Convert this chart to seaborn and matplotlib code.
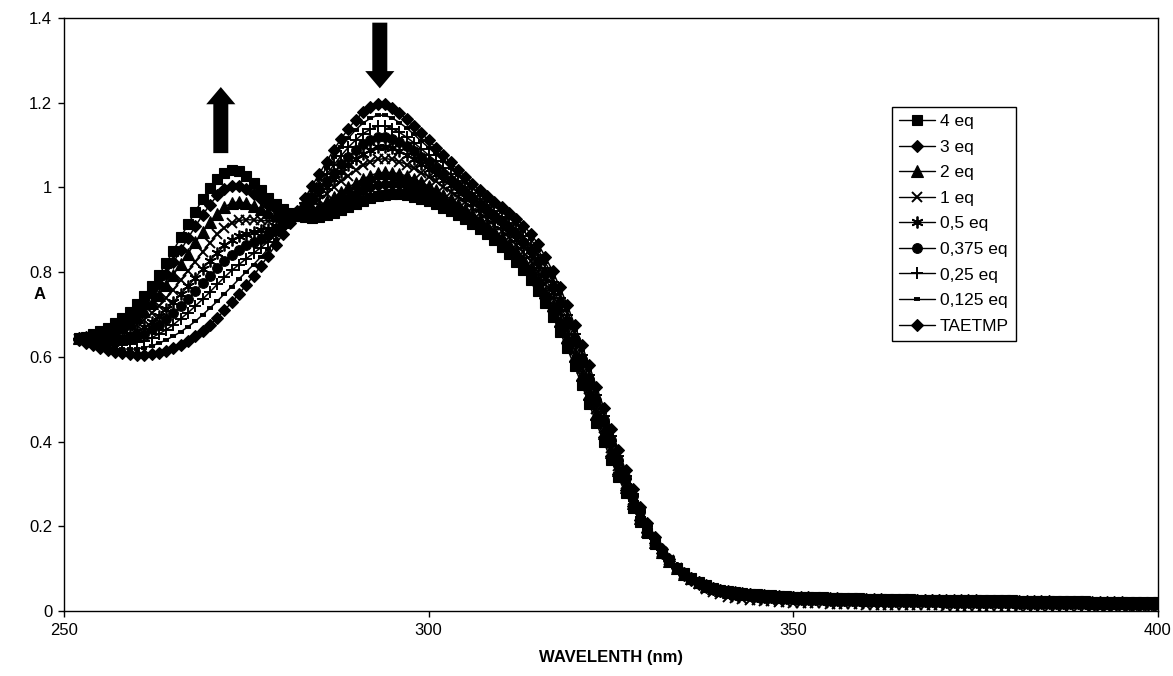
import matplotlib
matplotlib.use("Agg")
import matplotlib.pyplot as plt
from matplotlib.lines import Line2D
from matplotlib.ticker import FuncFormatter
import pandas as pd
import seaborn as sns

# Wavelength grid (nm), one reading per nanometre
wavelength = list(range(252, 401))

eq_4 = [
    0.645, 0.648, 0.653, 0.660, 0.668, 0.679, 0.692, 0.707, 0.724, 0.744,
    0.767, 0.793, 0.821, 0.851, 0.882, 0.913, 0.943, 0.972, 0.998, 1.020,
    1.035, 1.041, 1.038, 1.027, 1.011, 0.993, 0.975, 0.960, 0.948, 0.939,
    0.933, 0.930, 0.929, 0.931, 0.935, 0.940, 0.947, 0.954, 0.961, 0.968,
    0.974, 0.979, 0.982, 0.984, 0.984, 0.982, 0.978, 0.973, 0.967, 0.960,
    0.952, 0.944, 0.935, 0.925, 0.914, 0.902, 0.889, 0.875, 0.860, 0.843,
    0.825, 0.805, 0.782, 0.756, 0.727, 0.695, 0.659, 0.620, 0.578, 0.534,
    0.489, 0.444, 0.400, 0.357, 0.316, 0.278, 0.243, 0.211, 0.183, 0.158,
    0.136, 0.118, 0.102, 0.089, 0.078, 0.069, 0.061, 0.055, 0.050, 0.048,
    0.045, 0.043, 0.041, 0.039, 0.038, 0.037, 0.036, 0.035, 0.034, 0.033,
    0.033, 0.032, 0.032, 0.031, 0.031, 0.030, 0.030, 0.030, 0.029, 0.029,
    0.029, 0.028, 0.028, 0.028, 0.028, 0.027, 0.027, 0.027, 0.027, 0.026,
    0.026, 0.026, 0.026, 0.026, 0.025, 0.025, 0.025, 0.025, 0.025, 0.024,
    0.024, 0.024, 0.024, 0.024, 0.023, 0.023, 0.023, 0.023, 0.023, 0.022,
    0.022, 0.022, 0.022, 0.022, 0.021, 0.021, 0.021, 0.021, 0.021,
]

eq_3 = [
    0.644, 0.646, 0.650, 0.655, 0.662, 0.671, 0.682, 0.695, 0.710, 0.727,
    0.748, 0.771, 0.796, 0.823, 0.852, 0.880, 0.908, 0.935, 0.959, 0.981,
    0.996, 1.004, 1.003, 0.996, 0.985, 0.972, 0.959, 0.949, 0.941, 0.936,
    0.934, 0.935, 0.938, 0.943, 0.950, 0.958, 0.967, 0.976, 0.985, 0.993,
    1.000, 1.005, 1.008, 1.009, 1.007, 1.004, 0.998, 0.992, 0.984, 0.976,
    0.967, 0.958, 0.948, 0.937, 0.925, 0.913, 0.900, 0.886, 0.871, 0.855,
    0.837, 0.818, 0.795, 0.769, 0.740, 0.708, 0.672, 0.632, 0.590, 0.545,
    0.500, 0.454, 0.410, 0.366, 0.324, 0.285, 0.248, 0.215, 0.186, 0.160,
    0.137, 0.118, 0.102, 0.089, 0.078, 0.068, 0.061, 0.055, 0.050, 0.047,
    0.044, 0.042, 0.040, 0.038, 0.037, 0.036, 0.035, 0.034, 0.033, 0.032,
    0.032, 0.031, 0.031, 0.030, 0.030, 0.029, 0.029, 0.029, 0.028, 0.028,
    0.028, 0.027, 0.027, 0.027, 0.027, 0.026, 0.026, 0.026, 0.026, 0.025,
    0.025, 0.025, 0.025, 0.025, 0.024, 0.024, 0.024, 0.024, 0.024, 0.023,
    0.023, 0.023, 0.023, 0.023, 0.022, 0.022, 0.022, 0.022, 0.022, 0.021,
    0.021, 0.021, 0.021, 0.021, 0.020, 0.020, 0.020, 0.020, 0.020,
]

eq_2 = [
    0.644, 0.644, 0.647, 0.650, 0.655, 0.662, 0.671, 0.682, 0.694, 0.709,
    0.727, 0.747, 0.770, 0.794, 0.819, 0.844, 0.870, 0.895, 0.918, 0.938,
    0.954, 0.963, 0.966, 0.963, 0.956, 0.949, 0.941, 0.936, 0.934, 0.934,
    0.936, 0.941, 0.948, 0.956, 0.967, 0.977, 0.989, 1.000, 1.011, 1.020,
    1.028, 1.034, 1.036, 1.035, 1.032, 1.027, 1.020, 1.012, 1.003, 0.994,
    0.983, 0.973, 0.962, 0.950, 0.938, 0.925, 0.912, 0.898, 0.883, 0.867,
    0.850, 0.831, 0.809, 0.784, 0.754, 0.722, 0.685, 0.646, 0.603, 0.558,
    0.512, 0.466, 0.420, 0.375, 0.332, 0.292, 0.254, 0.220, 0.189, 0.162,
    0.139, 0.119, 0.102, 0.088, 0.077, 0.068, 0.060, 0.054, 0.049, 0.046,
    0.043, 0.041, 0.039, 0.037, 0.036, 0.035, 0.034, 0.033, 0.032, 0.031,
    0.031, 0.030, 0.030, 0.029, 0.029, 0.028, 0.028, 0.028, 0.027, 0.027,
    0.027, 0.026, 0.026, 0.026, 0.026, 0.025, 0.025, 0.025, 0.025, 0.024,
    0.024, 0.024, 0.024, 0.024, 0.023, 0.023, 0.023, 0.023, 0.023, 0.022,
    0.022, 0.022, 0.022, 0.022, 0.021, 0.021, 0.021, 0.021, 0.021, 0.020,
    0.020, 0.020, 0.020, 0.020, 0.019, 0.019, 0.019, 0.019, 0.019,
]

eq_1 = [
    0.643, 0.642, 0.643, 0.644, 0.647, 0.652, 0.659, 0.667, 0.676, 0.688,
    0.703, 0.720, 0.739, 0.759, 0.781, 0.803, 0.825, 0.848, 0.869, 0.889,
    0.905, 0.916, 0.922, 0.924, 0.923, 0.922, 0.921, 0.922, 0.925, 0.930,
    0.938, 0.948, 0.959, 0.971, 0.985, 1.000, 1.014, 1.028, 1.041, 1.052,
    1.060, 1.066, 1.068, 1.066, 1.061, 1.054, 1.045, 1.035, 1.025, 1.014,
    1.002, 0.990, 0.978, 0.965, 0.952, 0.939, 0.925, 0.911, 0.897, 0.882,
    0.865, 0.847, 0.826, 0.800, 0.771, 0.738, 0.701, 0.661, 0.617, 0.572,
    0.525, 0.478, 0.432, 0.386, 0.342, 0.300, 0.261, 0.225, 0.193, 0.165,
    0.140, 0.120, 0.102, 0.088, 0.074, 0.063, 0.053, 0.045, 0.040, 0.034,
    0.031, 0.029, 0.027, 0.025, 0.024, 0.023, 0.022, 0.021, 0.020, 0.019,
    0.019, 0.018, 0.018, 0.017, 0.017, 0.016, 0.016, 0.016, 0.015, 0.015,
    0.015, 0.014, 0.014, 0.014, 0.014, 0.013, 0.013, 0.013, 0.013, 0.012,
    0.012, 0.012, 0.012, 0.012, 0.011, 0.011, 0.011, 0.011, 0.011, 0.010,
    0.010, 0.010, 0.010, 0.010, 0.009, 0.009, 0.009, 0.009, 0.009, 0.008,
    0.008, 0.008, 0.008, 0.008, 0.007, 0.007, 0.007, 0.007, 0.007,
]

eq_0_5 = [
    0.642, 0.640, 0.639, 0.639, 0.640, 0.644, 0.648, 0.654, 0.661, 0.670,
    0.682, 0.696, 0.712, 0.729, 0.748, 0.767, 0.787, 0.808, 0.827, 0.846,
    0.863, 0.876, 0.885, 0.891, 0.895, 0.899, 0.903, 0.909, 0.917, 0.927,
    0.939, 0.953, 0.968, 0.985, 1.002, 1.019, 1.036, 1.052, 1.067, 1.079,
    1.088, 1.095, 1.095, 1.092, 1.086, 1.077, 1.067, 1.055, 1.043, 1.031,
    1.018, 1.005, 0.992, 0.978, 0.964, 0.951, 0.937, 0.923, 0.909, 0.894,
    0.879, 0.861, 0.840, 0.814, 0.785, 0.752, 0.715, 0.674, 0.630, 0.584,
    0.537, 0.490, 0.442, 0.396, 0.350, 0.307, 0.266, 0.230, 0.196, 0.167,
    0.141, 0.120, 0.102, 0.087, 0.076, 0.066, 0.059, 0.053, 0.048, 0.045,
    0.042, 0.040, 0.038, 0.036, 0.035, 0.034, 0.033, 0.032, 0.031, 0.030,
    0.030, 0.029, 0.029, 0.028, 0.028, 0.027, 0.027, 0.027, 0.026, 0.026,
    0.026, 0.025, 0.025, 0.025, 0.025, 0.024, 0.024, 0.024, 0.024, 0.023,
    0.023, 0.023, 0.023, 0.023, 0.022, 0.022, 0.022, 0.022, 0.022, 0.021,
    0.021, 0.021, 0.021, 0.021, 0.020, 0.020, 0.020, 0.020, 0.020, 0.019,
    0.019, 0.019, 0.019, 0.019, 0.018, 0.018, 0.018, 0.018, 0.018,
]

eq_0_375 = [
    0.642, 0.638, 0.636, 0.635, 0.635, 0.636, 0.639, 0.642, 0.648, 0.655,
    0.665, 0.676, 0.689, 0.704, 0.720, 0.737, 0.755, 0.774, 0.792, 0.810,
    0.827, 0.841, 0.853, 0.863, 0.871, 0.879, 0.888, 0.899, 0.911, 0.925,
    0.941, 0.958, 0.976, 0.996, 1.016, 1.035, 1.055, 1.072, 1.088, 1.102,
    1.112, 1.119, 1.119, 1.115, 1.107, 1.097, 1.085, 1.072, 1.059, 1.046,
    1.032, 1.018, 1.004, 0.989, 0.975, 0.961, 0.947, 0.933, 0.920, 0.905,
    0.890, 0.872, 0.852, 0.826, 0.797, 0.764, 0.726, 0.685, 0.641, 0.594,
    0.547, 0.499, 0.451, 0.404, 0.357, 0.313, 0.271, 0.233, 0.199, 0.169,
    0.142, 0.121, 0.102, 0.087, 0.075, 0.066, 0.058, 0.052, 0.048, 0.045,
    0.042, 0.040, 0.038, 0.036, 0.035, 0.034, 0.033, 0.032, 0.031, 0.030,
    0.030, 0.029, 0.029, 0.028, 0.028, 0.027, 0.027, 0.027, 0.026, 0.026,
    0.026, 0.025, 0.025, 0.025, 0.025, 0.024, 0.024, 0.024, 0.024, 0.023,
    0.023, 0.023, 0.023, 0.023, 0.022, 0.022, 0.022, 0.022, 0.022, 0.021,
    0.021, 0.021, 0.021, 0.021, 0.020, 0.020, 0.020, 0.020, 0.020, 0.019,
    0.019, 0.019, 0.019, 0.019, 0.018, 0.018, 0.018, 0.018, 0.018,
]

eq_0_25 = [
    0.641, 0.637, 0.633, 0.630, 0.629, 0.628, 0.629, 0.630, 0.634, 0.638,
    0.645, 0.654, 0.664, 0.676, 0.690, 0.704, 0.720, 0.736, 0.753, 0.771,
    0.788, 0.804, 0.818, 0.832, 0.845, 0.858, 0.872, 0.887, 0.904, 0.922,
    0.942, 0.963, 0.985, 1.008, 1.031, 1.053, 1.075, 1.095, 1.112, 1.127,
    1.137, 1.145, 1.145, 1.139, 1.130, 1.118, 1.105, 1.091, 1.076, 1.062,
    1.047, 1.031, 1.016, 1.001, 0.986, 0.972, 0.958, 0.944, 0.931, 0.917,
    0.902, 0.885, 0.865, 0.840, 0.810, 0.776, 0.739, 0.698, 0.653, 0.605,
    0.558, 0.509, 0.461, 0.413, 0.365, 0.319, 0.276, 0.238, 0.202, 0.171,
    0.144, 0.121, 0.102, 0.087, 0.075, 0.065, 0.058, 0.052, 0.048, 0.044,
    0.041, 0.039, 0.037, 0.035, 0.034, 0.033, 0.032, 0.031, 0.030, 0.029,
    0.029, 0.028, 0.028, 0.027, 0.027, 0.026, 0.026, 0.026, 0.025, 0.025,
    0.025, 0.024, 0.024, 0.024, 0.024, 0.023, 0.023, 0.023, 0.023, 0.022,
    0.022, 0.022, 0.022, 0.022, 0.021, 0.021, 0.021, 0.021, 0.021, 0.020,
    0.020, 0.020, 0.020, 0.020, 0.019, 0.019, 0.019, 0.019, 0.019, 0.018,
    0.018, 0.018, 0.018, 0.018, 0.017, 0.017, 0.017, 0.017, 0.017,
]

eq_0_125 = [
    0.641, 0.635, 0.630, 0.626, 0.622, 0.620, 0.619, 0.618, 0.619, 0.622,
    0.626, 0.632, 0.640, 0.649, 0.659, 0.671, 0.684, 0.699, 0.715, 0.731,
    0.749, 0.766, 0.784, 0.801, 0.818, 0.836, 0.855, 0.876, 0.897, 0.920,
    0.944, 0.969, 0.994, 1.020, 1.046, 1.071, 1.095, 1.117, 1.136, 1.152,
    1.163, 1.171, 1.170, 1.164, 1.153, 1.140, 1.125, 1.109, 1.094, 1.078,
    1.062, 1.045, 1.029, 1.013, 0.998, 0.983, 0.969, 0.955, 0.942, 0.928,
    0.914, 0.897, 0.878, 0.853, 0.823, 0.789, 0.751, 0.710, 0.664, 0.617,
    0.569, 0.520, 0.470, 0.421, 0.372, 0.326, 0.282, 0.242, 0.205, 0.173,
    0.145, 0.122, 0.102, 0.086, 0.074, 0.065, 0.057, 0.051, 0.047, 0.043,
    0.040, 0.038, 0.036, 0.034, 0.033, 0.032, 0.031, 0.030, 0.029, 0.028,
    0.028, 0.027, 0.027, 0.026, 0.026, 0.025, 0.025, 0.025, 0.024, 0.024,
    0.024, 0.023, 0.023, 0.023, 0.023, 0.022, 0.022, 0.022, 0.022, 0.021,
    0.021, 0.021, 0.021, 0.021, 0.020, 0.020, 0.020, 0.020, 0.020, 0.019,
    0.019, 0.019, 0.019, 0.019, 0.018, 0.018, 0.018, 0.018, 0.018, 0.017,
    0.017, 0.017, 0.017, 0.017, 0.016, 0.016, 0.016, 0.016, 0.016,
]

taetmp = [
    0.640, 0.633, 0.627, 0.621, 0.616, 0.612, 0.609, 0.606, 0.605, 0.605,
    0.607, 0.610, 0.615, 0.621, 0.629, 0.638, 0.649, 0.662, 0.676, 0.692,
    0.710, 0.729, 0.749, 0.770, 0.792, 0.815, 0.839, 0.864, 0.890, 0.917,
    0.945, 0.974, 1.003, 1.032, 1.061, 1.089, 1.115, 1.139, 1.160, 1.177,
    1.189, 1.197, 1.196, 1.188, 1.176, 1.161, 1.145, 1.128, 1.111, 1.094,
    1.077, 1.059, 1.042, 1.025, 1.009, 0.994, 0.980, 0.966, 0.953, 0.940,
    0.926, 0.910, 0.891, 0.866, 0.836, 0.802, 0.764, 0.722, 0.676, 0.628,
    0.580, 0.530, 0.480, 0.430, 0.380, 0.332, 0.287, 0.246, 0.208, 0.175,
    0.146, 0.122, 0.102, 0.086, 0.074, 0.064, 0.057, 0.051, 0.047, 0.044,
    0.041, 0.039, 0.037, 0.035, 0.034, 0.033, 0.032, 0.031, 0.030, 0.029,
    0.029, 0.028, 0.028, 0.027, 0.027, 0.026, 0.026, 0.026, 0.025, 0.025,
    0.025, 0.024, 0.024, 0.024, 0.024, 0.023, 0.023, 0.023, 0.023, 0.022,
    0.022, 0.022, 0.022, 0.022, 0.021, 0.021, 0.021, 0.021, 0.021, 0.020,
    0.020, 0.020, 0.020, 0.020, 0.019, 0.019, 0.019, 0.019, 0.019, 0.018,
    0.018, 0.018, 0.018, 0.018, 0.017, 0.017, 0.017, 0.017, 0.017,
]

series_labels = ["4 eq", "3 eq", "2 eq", "1 eq", "0,5 eq",
                 "0,375 eq", "0,25 eq", "0,125 eq", "TAETMP"]
series_values = [eq_4, eq_3, eq_2, eq_1, eq_0_5,
                 eq_0_375, eq_0_25, eq_0_125, taetmp]

x_ticks = [250, 300, 350, 400]
y_ticks = [0, 0.2, 0.4, 0.6, 0.8, 1.0, 1.2, 1.4]

# Marker glyph for each titration step (all drawn in black)
marker_styles = {
    "4 eq": dict(marker="s", markersize=7.0, markeredgewidth=0.8),
    "3 eq": dict(marker="D", markersize=6.5, markeredgewidth=0.8),
    "2 eq": dict(marker="^", markersize=8.0, markeredgewidth=0.8),
    "1 eq": dict(marker="x", markersize=7.0, markeredgewidth=1.4),
    "0,5 eq": dict(marker=(6, 2, 0), markersize=8.5, markeredgewidth=1.3),
    "0,375 eq": dict(marker="o", markersize=7.0, markeredgewidth=0.8),
    "0,25 eq": dict(marker="+", markersize=9.0, markeredgewidth=1.4),
    "0,125 eq": dict(marker="_", markersize=4.5, markeredgewidth=2.8),
    "TAETMP": dict(marker="D", markersize=6.5, markeredgewidth=0.8),
}

frames = []
for label, values in zip(series_labels, series_values):
    frames.append(pd.DataFrame({"wavelength": wavelength,
                                "absorbance": values,
                                "sample": label}))
spectra = pd.DataFrame(pd.concat(frames, ignore_index=True))

sns.set_style("white")
plt.rcParams["font.family"] = ["Liberation Sans", "DejaVu Sans"]
plt.rcParams["text.color"] = "black"
plt.rcParams["axes.labelcolor"] = "black"
plt.rcParams["xtick.color"] = "black"
plt.rcParams["ytick.color"] = "black"

W, H = 1173, 676
fig = plt.figure(figsize=(W / 100, H / 100), dpi=100)
ax = fig.add_axes([64 / W, 1 - 611 / H, (1158 - 64) / W, (611 - 18) / H])

for label in series_labels:
    subset = spectra[spectra["sample"] == label]
    sns.lineplot(data=subset, x="wavelength", y="absorbance", ax=ax,
                 color="black", linewidth=1.1, estimator=None, sort=False,
                 errorbar=None, legend=False,
                 markerfacecolor="black", markeredgecolor="black",
                 **marker_styles[label])

ax.set_xlim(x_ticks[0], x_ticks[-1])
ax.set_ylim(y_ticks[0], y_ticks[-1])
ax.set_xticks(x_ticks)
ax.set_yticks(y_ticks)
ax.yaxis.set_major_formatter(FuncFormatter(lambda v, _: f"{v:g}"))
ax.tick_params(axis="both", direction="out", length=4.5, width=1.0,
               labelsize=12, pad=4, bottom=True, left=True)
for spine in ax.spines.values():
    spine.set_visible(True)
    spine.set_color("black")
    spine.set_linewidth(1.0)

ax.set_xlabel("WAVELENTH (nm)", fontsize=12, fontweight="bold")
ax.xaxis.set_label_coords(0.5, -0.066)
ax.set_ylabel("A", fontsize=12, fontweight="bold", rotation=0,
              ha="center", va="center")
ax.yaxis.set_label_coords(-0.022, 0.533)

# Direction of change at the two absorption bands
arrow_style = "simple,head_length=0.62,head_width=1.05,tail_width=0.54"
rise_band, fall_band = 271.5, 293.3
ax.annotate("", xy=(rise_band, 1.237), xytext=(rise_band, 1.081),
            arrowprops=dict(arrowstyle=arrow_style, mutation_scale=20,
                            fc="black", ec="black", lw=0,
                            shrinkA=0, shrinkB=0))
ax.annotate("", xy=(fall_band, 1.234), xytext=(fall_band, 1.389),
            arrowprops=dict(arrowstyle=arrow_style, mutation_scale=20,
                            fc="black", ec="black", lw=0,
                            shrinkA=0, shrinkB=0))

handles = [Line2D([], [], color="black", linewidth=1.0,
                  markerfacecolor="black", markeredgecolor="black",
                  **marker_styles[label]) for label in series_labels]
leg = ax.legend(handles, series_labels, loc="upper left",
                bbox_to_anchor=(892 / W, 1 - 107 / H),
                bbox_transform=fig.transFigure, frameon=True,
                fancybox=False, framealpha=1, edgecolor="black",
                borderaxespad=0, borderpad=0.4, labelspacing=0.6,
                handlelength=2.1, handletextpad=0.25, numpoints=1,
                prop={"size": 12.5})
leg.get_frame().set_linewidth(1.0)

fig.savefig("out.png", dpi=100, facecolor="white")
